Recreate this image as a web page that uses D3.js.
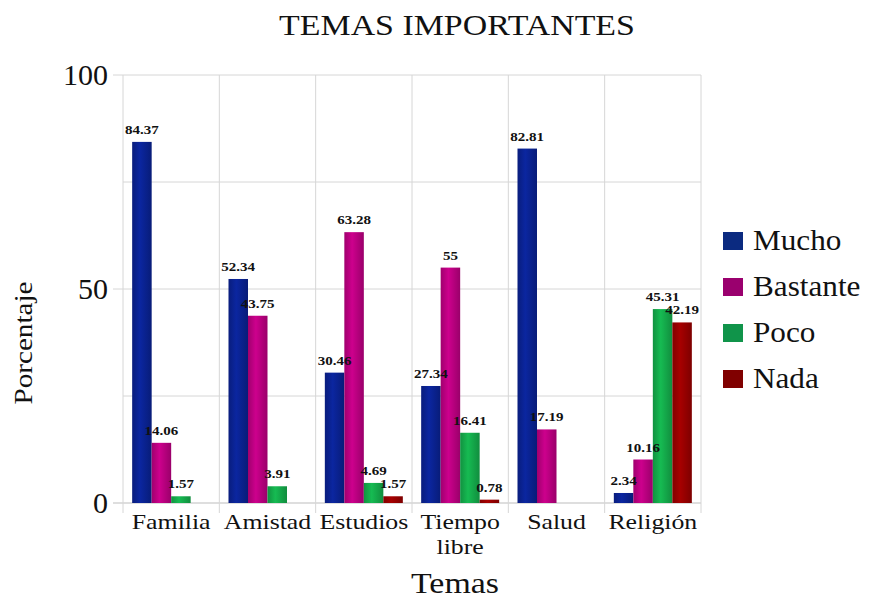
<!DOCTYPE html>
<html><head><meta charset="utf-8">
<script src="https://cdn.jsdelivr.net/npm/d3@7"></script>
<style>body{margin:0;background:#fff}svg{display:block}text{font-family:"Liberation Serif","Times New Roman",serif}</style>
</head><body>
<script>
const categories = ["Familia","Amistad","Estudios","Tiempo libre","Salud","Religión"];
const seriesNames = ["Mucho","Bastante","Poco","Nada"];
const mucho    = [84.37, 52.34, 30.46, 27.34, 82.81, 2.34];
const bastante = [14.06, 43.75, 63.28, 55, 17.19, 10.16];
const poco     = [1.57, 3.91, 4.69, 16.41, null, 45.31];
const nada     = [null, null, 1.57, 0.78, null, 42.19];
const yTicks = [0, 50, 100];
const colors = ["#0a2290","#b8007f","#14a84a","#960000"];
const legendColors = ["#0b2a80","#9a006e","#10944a","#800000"];

const W = 872, H = 600;
const m = {l:123, r:171, t:75, b:97};
const svg = d3.select("body").append("svg").attr("width",W).attr("height",H);
const defs = svg.append("defs");
colors.forEach((c,i)=>{
  const g = defs.append("linearGradient").attr("id","g"+i).attr("x1","0").attr("x2","1").attr("y1","0").attr("y2","0");
  const base = d3.color(c);
  g.append("stop").attr("offset","0%").attr("stop-color",base.darker(0.4));
  g.append("stop").attr("offset","40%").attr("stop-color",base.brighter(0.3));
  g.append("stop").attr("offset","100%").attr("stop-color",base.darker(0.5));
});

function stext(parent, x, y, str, size, sx, anchor, extra){
  const t = parent.append("text").attr("transform",`translate(${x},${y}) scale(${sx},1)`)
    .attr("text-anchor",anchor).attr("font-size",size).attr("fill","#111").text(str);
  if(extra) extra(t);
  return t;
}

const x = d3.scaleBand().domain(categories).range([m.l, W-m.r]).paddingInner(0).paddingOuter(0);
const xs = d3.scaleBand().domain(seriesNames).range([0, x.bandwidth()]).paddingInner(0).paddingOuter(0.47);
const y = d3.scaleLinear().domain([0,100]).range([H-m.b, m.t]);

// grid
const grid = svg.append("g");
[0,25,50,75,100].forEach(v=>{
  grid.append("line").attr("x1",m.l-(v%50===0?10:0)).attr("x2",W-m.r).attr("y1",y(v)).attr("y2",y(v))
    .attr("stroke", v===0 ? "#bdbdbd" : "#d6d6d6").attr("stroke-width",1);
});
const edges = categories.map(c=>x(c)).concat([x(categories[categories.length-1])+x.bandwidth()]);
edges.forEach(e=>{
  grid.append("line").attr("x1",e).attr("x2",e).attr("y1",y(100)).attr("y2",y(0)+10)
    .attr("stroke","#d6d6d6").attr("stroke-width",1);
});

// y tick labels
const yl = svg.append("g");
yTicks.forEach(d=>stext(yl, m.l-15, y(d)+10, d, 30, 1, "end"));

// bars
const series = [mucho,bastante,poco,nada];
series.forEach((vals,si)=>{
  const data = categories.map((c,i)=>({c, v: vals[i]})).filter(d=>d.v!==null);
  svg.append("g").selectAll("rect").data(data).join("rect")
    .attr("x",d=>x(d.c)+xs(seriesNames[si]))
    .attr("width",xs.bandwidth())
    .attr("y",d=>y(d.v)).attr("height",d=>y(0)-y(d.v))
    .attr("fill",`url(#g${si})`);
});
const lab = svg.append("g");
series.forEach((vals,si)=>{
  categories.forEach((c,i)=>{
    const v = vals[i];
    if(v===null) return;
    stext(lab, x(c)+xs(seriesNames[si])+xs.bandwidth()/2, y(v)-8, v, 12, 1.25, "middle",
      t=>t.attr("font-weight","bold"));
  });
});

// x labels
const xl = svg.append("g");
categories.forEach(c=>{
  const words = c === "Tiempo libre" ? ["Tiempo","libre"] : [c];
  words.forEach((w,i)=>stext(xl, x(c)+x.bandwidth()/2, 529 + i*25, w, 21.5, 1.2, "middle"));
});

// titles
stext(svg, 457, 35, "TEMAS IMPORTANTES", 30, 1.13, "middle");
stext(svg, 455, 593, "Temas", 30, 1.13, "middle");
svg.append("text").attr("transform",`translate(32,343) rotate(-90) scale(1.12,1)`)
  .attr("text-anchor","middle").attr("font-size",26).attr("fill","#111").text("Porcentaje");

// legend
const lg = svg.append("g");
seriesNames.forEach((n,i)=>{
  const base = 250 + i*46;
  lg.append("rect").attr("x",723).attr("y",base-18).attr("width",20).attr("height",18).attr("fill",legendColors[i]);
  stext(lg, 753, base, n, 30, 1.04, "start");
});
</script>
</body></html>
